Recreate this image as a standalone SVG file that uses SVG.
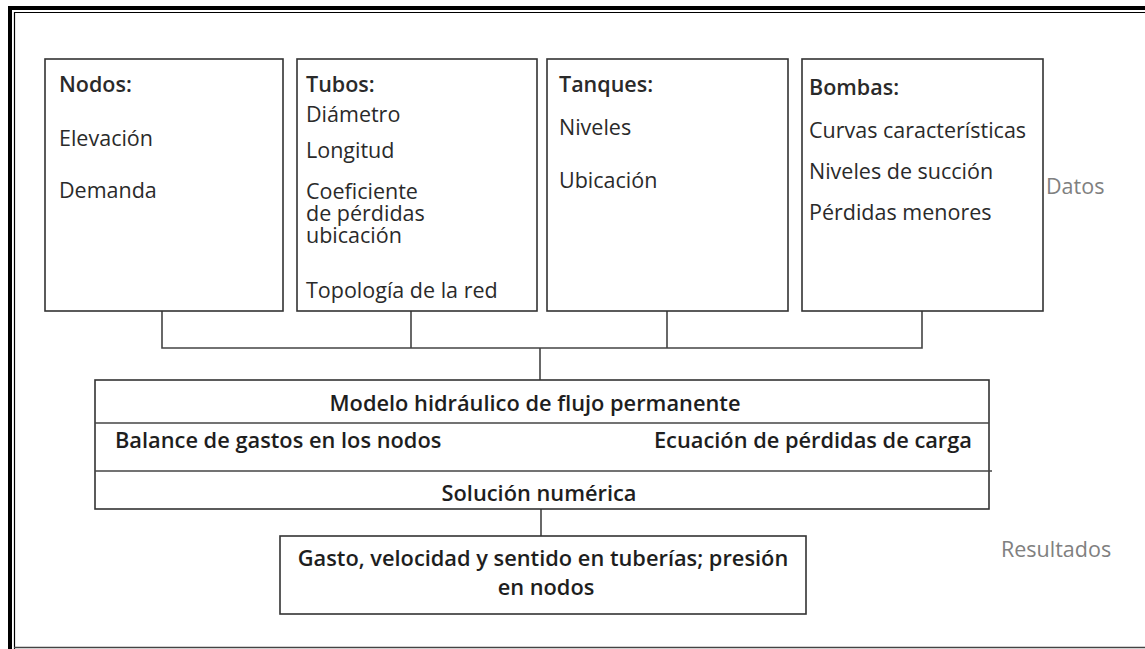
<svg xmlns="http://www.w3.org/2000/svg" width="1145" height="649" viewBox="0 0 1145 649">
<style>
  .box { fill: #ffffff; stroke: #333333; stroke-width: 1.6; }
  .conn { fill: none; stroke: #444444; stroke-width: 1.6; }
  .t { font-family: "Open Sans", "Liberation Sans", sans-serif; font-size: 21.5px; fill: #2a2a2a; }
  .h { font-weight: 600; }
  .b { font-family: "Open Sans", "Liberation Sans", sans-serif; font-size: 21.8px; font-weight: 600; fill: #1e1e1e; }
  .side { font-family: "Open Sans", "Liberation Sans", sans-serif; font-size: 21.5px; fill: #808080; }
</style>
<rect x="0" y="0" width="1145" height="649" fill="#ffffff"/>
<g id="frame">
  <rect x="8" y="6" width="1137" height="4" fill="#000000"/>
  <rect x="8" y="6" width="4" height="643" fill="#000000"/>
  <line x1="14" y1="12.5" x2="1145" y2="12.5" stroke="#000000" stroke-width="1.2"/>
  <line x1="14.5" y1="12" x2="14.5" y2="649" stroke="#000000" stroke-width="1.2"/>
  <line x1="14" y1="647.5" x2="1145" y2="647.5" stroke="#444444" stroke-width="1.6"/>
</g>
<g id="connectors">
  <path class="conn" d="M162 311 V348 H922 V311 M411 311 V348 M667 311 V348 M540 348 V380 M541 509 V536"/>
</g>
<g id="nodos">
  <rect class="box" x="45" y="59" width="238" height="252"/>
  <text class="t h" x="59" y="92">Nodos:</text>
  <text class="t" x="59" y="146">Elevación</text>
  <text class="t" x="59" y="198">Demanda</text>
</g>
<g id="tubos">
  <rect class="box" x="297" y="59" width="240" height="252"/>
  <text class="t h" x="306" y="92">Tubos:</text>
  <text class="t" x="306" y="122">Diámetro</text>
  <text class="t" x="306" y="158">Longitud</text>
  <text class="t" x="306" y="199"><tspan x="306" y="199">Coeficiente</tspan><tspan x="306" y="221">de pérdidas</tspan><tspan x="306" y="243">ubicación</tspan></text>
  <text class="t" x="306" y="298">Topología de la red</text>
</g>
<g id="tanques">
  <rect class="box" x="547" y="59" width="241" height="252"/>
  <text class="t h" x="559" y="92">Tanques:</text>
  <text class="t" x="559" y="135">Niveles</text>
  <text class="t" x="559" y="188">Ubicación</text>
</g>
<g id="bombas">
  <rect class="box" x="802" y="59" width="241" height="252"/>
  <text class="t h" x="809" y="95">Bombas:</text>
  <text class="t" x="809" y="138">Curvas características</text>
  <text class="t" x="809" y="179">Niveles de succión</text>
  <text class="t" x="809" y="220">Pérdidas menores</text>
</g>
<g id="datos">
  <text class="side" x="1046" y="194">Datos</text>
</g>
<g id="modelo">
  <rect class="box" x="95" y="380" width="894" height="129"/>
  <line class="conn" x1="95" y1="423" x2="989" y2="423"/>
  <line class="conn" x1="95" y1="471" x2="992" y2="471"/>
  <text class="b" x="535" y="411" text-anchor="middle">Modelo hidráulico de flujo permanente</text>
  <text class="b" x="115" y="448">Balance de gastos en los nodos</text>
  <text class="b" x="972" y="448" text-anchor="end">Ecuación de pérdidas de carga</text>
  <text class="b" x="539" y="501" text-anchor="middle">Solución numérica</text>
</g>
<g id="resultado">
  <rect class="box" x="280" y="536" width="526" height="78"/>
  <text class="b" text-anchor="middle"><tspan x="543" y="566">Gasto, velocidad y sentido en tuberías; presión</tspan><tspan x="546" y="595">en nodos</tspan></text>
</g>
<g id="resultados">
  <text class="side" x="1001" y="557">Resultados</text>
</g>
</svg>
